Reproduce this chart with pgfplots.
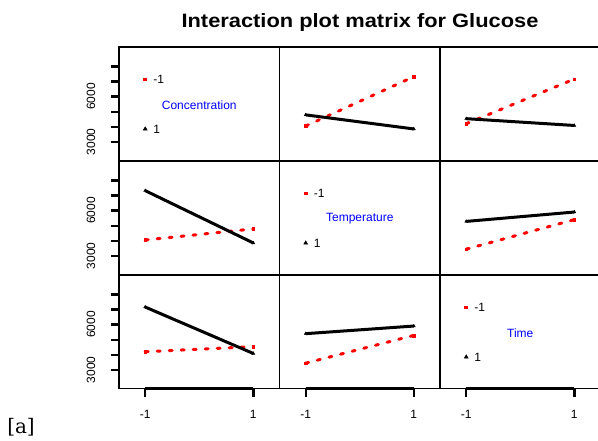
\documentclass[border=0pt]{standalone}
\usepackage{graphicx}
\usepackage{pgfplots}
\pgfplotsset{compat=1.18}
\usepackage{fontspec}
\setmainfont{Liberation Sans}
\newfontfamily\serifa{DejaVu Serif}
\definecolor{rred}{RGB}{255,0,0}
\definecolor{rblue}{RGB}{0,0,255}

\pgfplotsset{
 panel/.style={scale only axis, width=120.4pt, height=85.1pt,
   xmin=-1.485, xmax=1.485, ymin=1775, ymax=9280,
   axis line style={line width=1.1pt, black},
   xtick=\empty, ytick=\empty, clip=false, anchor=north west,
   tick align=outside, major tick length=6pt,
   tick style={line width=1.8pt, black},
   tick label style={font=\fontsize{9}{10}\selectfont}},
 lowlev/.style={rred, line width=2.25pt, line cap=round, dash pattern=on 2.25pt off 6.75pt,
   mark=square*, mark size=1pt, mark options={solid, line width=0.3pt}},
 highlev/.style={black, line width=2.25pt, mark=triangle*, mark size=1.3pt,
   mark options={solid, line width=0.3pt}},
 leftaxis/.style={ytick={3000,4000,5000,6000,7000,8000}, yticklabels={3000,,,6000,,},
   ytick pos=left, yticklabel style={xshift=-12pt, rotate=90, anchor=base, inner sep=0pt}},
 bottomaxis/.style={xtick={-1,1}, xticklabels={-1,1}, xtick pos=left,
   xticklabel style={anchor=base, yshift=-16.25pt, inner sep=0pt}},
}
\newcommand{\xaxisline}{\draw[line width=1.8pt] (axis cs:-1,1775) -- (axis cs:1,1775);}
\newcommand{\yaxisline}{\draw[line width=1.8pt] (axis cs:-1.485,3000) -- (axis cs:-1.485,8000);}
\newcommand{\legendpanel}[1]{%
  \addplot[only marks, mark=square*, rred, mark size=1.1pt] coordinates {(-1,7148)};
  \addplot[only marks, mark=triangle*, black, mark size=1.6pt] coordinates {(-1,3861)};
  \node[anchor=west, inner sep=0pt] at (axis cs:-0.852,7148) {-1};
  \node[anchor=west, inner sep=0pt] at (axis cs:-0.852,3861) {1};
  \node[text=rblue, inner sep=0pt] at (axis cs:0,5438) {#1};}

\begin{document}
\begin{tikzpicture}[font=\fontsize{9}{10}\selectfont]
\useasboundingbox (0,0) rectangle (448.5pt,-330pt);

% title
\node[anchor=base, inner sep=0pt, font=\fontsize{14.5}{17}\selectfont\bfseries] at (360*0.75pt,-27*0.75pt)
  {\scalebox{1.13}[1]{Interaction plot matrix for Glucose}};

% ---------- row 1
\begin{axis}[panel, leftaxis, at={(119*0.75pt,-47*0.75pt)}]
\legendpanel{Concentration}
\yaxisline
\end{axis}
\begin{axis}[panel, at={(279.5*0.75pt,-47*0.75pt)}]
\addplot[lowlev] coordinates {(-1,4055) (1,7320)};
\addplot[highlev] coordinates {(-1,4790) (1,3860)};
\end{axis}
\begin{axis}[panel, at={(440*0.75pt,-47*0.75pt)}]
\addplot[lowlev] coordinates {(-1,4207) (1,7160)};
\addplot[highlev] coordinates {(-1,4540) (1,4090)};
\end{axis}

% ---------- row 2
\begin{axis}[panel, leftaxis, at={(119*0.75pt,-161*0.75pt)}]
\addplot[lowlev] coordinates {(-1,4055) (1,4790)};
\addplot[highlev] coordinates {(-1,7320) (1,3860)};
\yaxisline
\end{axis}
\begin{axis}[panel, at={(279.5*0.75pt,-161*0.75pt)}]
\legendpanel{Temperature}
\end{axis}
\begin{axis}[panel, at={(440*0.75pt,-161*0.75pt)}]
\addplot[lowlev] coordinates {(-1,3450) (1,5400)};
\addplot[highlev] coordinates {(-1,5285) (1,5905)};
\end{axis}

% ---------- row 3
\begin{axis}[panel, leftaxis, bottomaxis, at={(119*0.75pt,-275*0.75pt)}]
\addplot[lowlev] coordinates {(-1,4207) (1,4540)};
\addplot[highlev] coordinates {(-1,7160) (1,4090)};
\yaxisline
\xaxisline
\end{axis}
\begin{axis}[panel, bottomaxis, at={(279.5*0.75pt,-275*0.75pt)}]
\addplot[lowlev] coordinates {(-1,3450) (1,5285)};
\addplot[highlev] coordinates {(-1,5400) (1,5905)};
\xaxisline
\end{axis}
\begin{axis}[panel, bottomaxis, at={(440*0.75pt,-275*0.75pt)}]
\legendpanel{Time}
\xaxisline
\end{axis}

% tick marks (R style, outward), positions of the tick values in picture px
\foreach \r in {47,161,275}{
  \foreach \k in {0,1,2,3,4,5}{
    \fill ({110.5*0.75pt},{-(\r+94.97-15.12*\k-1.2)*0.75pt}) rectangle ({119.5*0.75pt},{-(\r+94.97-15.12*\k+1.2)*0.75pt});
  }
}
\foreach \c in {145.2,253.3,305.7,413.8,466.2,574.3}{
  \fill ({(\c-1.2)*0.75pt},{-388*0.75pt}) rectangle ({(\c+1.2)*0.75pt},{-397*0.75pt});
}

% tag
\node[anchor=base west, inner sep=0pt, font={\serifa\fontsize{15}{18}\selectfont}] at (7*0.75pt,-433*0.75pt) {[a]};
\end{tikzpicture}
\end{document}
